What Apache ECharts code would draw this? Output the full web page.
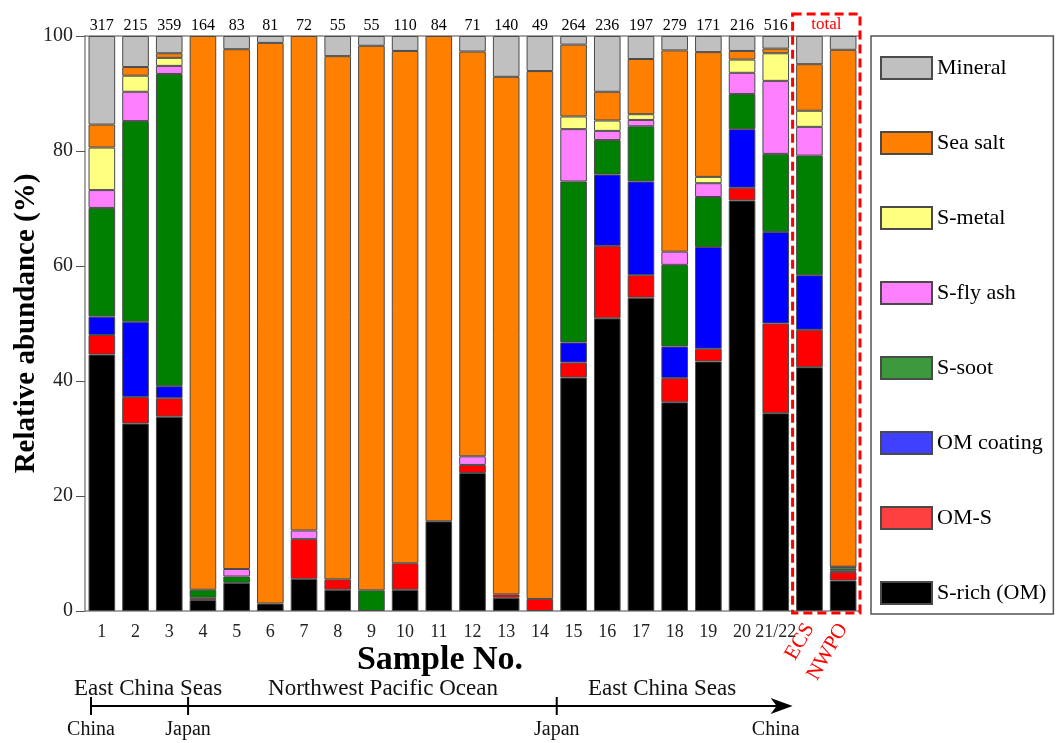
<!DOCTYPE html>
<html lang="en">
	<head>
		<meta charset="utf-8">
		<title>Relative abundance of S-containing particles</title>
		<style>
			html, body { margin: 0; padding: 0; background: #fff; }
			#chart { width: 1058px; height: 743px; }
		</style>
	</head>
	<body>
		<div id="chart"></div>
		<script src="https://cdn.jsdelivr.net/npm/echarts@6.0.0/dist/echarts.min.js"></script>
		<script>
			// categories + particle counts above bars
			var samples = ['1','2','3','4','5','6','7','8','9','10','11','12','13','14','15','16','17','18','19','20','21/22','ECS','NWPO'];
			var counts = ['317','215','359','164','83','81','72','55','55','110','84','71','140','49','264','236','197','279','171','216','516','',''];
			var yTicks = [0, 20, 40, 60, 80, 100];

			// percentages, bottom of the stack first
			var sRich     = [44.6,32.6,33.8,1.9,4.9,1.3,5.6,3.7,0,3.7,15.6,24.0,2.3,0,40.6,50.9,54.5,36.3,43.4,71.4,34.4,42.4,5.3];
			var omS       = [3.4,4.6,3.2,0.4,0,0,6.9,1.8,0,4.6,0,1.4,0.6,2.1,2.6,12.6,3.9,4.2,2.2,2.2,15.6,6.5,1.5];
			var omCoating = [3.2,13.1,2.1,0,0,0,0,0,0,0,0,0,0,0,3.5,12.4,16.3,5.5,17.7,10.2,15.9,9.5,0.2];
			var sSoot     = [18.9,34.9,54.3,1.4,1.1,0,0,0,3.6,0,0,0,0,0,28.0,6.0,9.6,14.2,8.7,6.1,13.6,20.8,0.4];
			var sFlyAsh   = [3.1,5.1,1.4,0,1.3,0,1.5,0,0,0,0,1.5,0,0,9.1,1.6,1.1,2.3,2.4,3.7,12.7,5.0,0.2];
			var sMetal    = [7.4,2.8,1.4,0,0,0,0,0,0,0,0,0,0,0,2.2,1.8,1.0,0,1.1,2.3,4.8,2.8,0.1];
			var seaSalt   = [4.0,1.5,0.8,96.3,90.4,97.5,86.0,91.0,94.7,89.1,84.4,70.4,90.0,91.8,12.5,5.0,9.6,35.0,21.7,1.5,0.8,8.1,89.9];
			var mineral   = [15.4,5.4,3.0,0,2.3,1.2,0,3.5,1.7,2.6,0,2.7,7.1,6.1,1.5,9.7,4.0,2.5,2.8,2.6,2.2,4.9,2.4];

			var seriesNames = ['S-rich (OM)','OM-S','OM coating','S-soot','S-fly ash','S-metal','Sea salt','Mineral'];
			var seriesData = [sRich, omS, omCoating, sSoot, sFlyAsh, sMetal, seaSalt, mineral];
			var barColors = ['#000000','#ff0000','#0000ff','#008000','#ff80ff','#ffff80','#ff8000','#c0c0c0'];
			var legendColors = ['#000000','#ff4040','#4040ff','#3c9a3c','#ff80ff','#ffff80','#ff8000','#c0c0c0'];

			var serif = 'Liberation Serif';
			var chart = echarts.init(document.getElementById('chart'));

			var series = [];
			for (var i = 0; i < seriesNames.length; i++) {
				series.push({
					name: seriesNames[i],
					type: 'bar',
					stack: 'total',
					xAxisIndex: 0,
					barWidth: '79%',
					data: seriesData[i].map(function (v) { return v === 0 ? '-' : v; }),
					itemStyle: { color: barColors[i], borderColor: '#4a4a4a', borderWidth: 1 },
					emphasis: { disabled: true }
				});
			}

			var legendData = [];
			for (var j = seriesNames.length - 1; j >= 0; j--) {
				legendData.push({ name: seriesNames[j], itemStyle: { color: legendColors[j] } });
			}

			var option = {
				animation: false,
				backgroundColor: '#fff',
				textStyle: { fontFamily: serif },
				grid: { left: 85, right: 198, top: 36, bottom: 132, outerBoundsMode: 'none', containLabel: false },
				legend: {
					orient: 'vertical',
					left: 871,
					top: 36,
					padding: [20, 7, 9, 9],
					icon: 'rect',
					itemWidth: 51,
					itemHeight: 22,
					itemGap: 51,
					borderColor: '#555',
					borderWidth: 1.5,
					textStyle: { fontFamily: serif, fontSize: 22, lineHeight: 22, color: '#000' },
					data: legendData
				},
				xAxis: [{
					type: 'category',
					position: 'bottom',
					data: samples,
					axisLine: { lineStyle: { color: '#888', width: 1.5 } },
					axisTick: { alignWithLabel: true, length: 9, lineStyle: { color: '#555' } },
					axisLabel: {
						interval: 0, margin: 12, fontSize: 18, color: '#222', fontFamily: serif,
						formatter: function (v) { return (v === 'ECS' || v === 'NWPO') ? '' : v; }
					}
				}, {
					type: 'category',
					position: 'bottom',
					data: samples,
					axisLine: { show: false },
					axisTick: { show: false },
					axisLabel: {
						interval: 0, margin: 14, rotate: 60, fontSize: 21, color: '#ff0000', fontFamily: serif,
						formatter: function (v) { return (v === 'ECS' || v === 'NWPO') ? v : ''; }
					}
				}, {
					type: 'category',
					position: 'top',
					data: counts,
					axisLine: { lineStyle: { color: '#888', width: 1.5 } },
					axisTick: { show: false },
					axisLabel: { interval: 0, margin: 2, fontSize: 16, color: '#000', fontFamily: serif }
				}],
				yAxis: {
					type: 'value',
					min: yTicks[0],
					max: yTicks[yTicks.length - 1],
					interval: 20,
					name: 'Relative abundance (%)',
					nameLocation: 'middle',
					nameGap: 44,
					nameMoveOverlap: false,
					nameTextStyle: { fontFamily: serif, fontSize: 29, fontWeight: 'bold', color: '#000' },
					axisLine: { show: true, lineStyle: { color: '#888', width: 1.5 } },
					axisTick: { show: true, length: 9, lineStyle: { color: '#555' } },
					axisLabel: { fontSize: 20, color: '#222', margin: 12, fontFamily: serif },
					splitLine: { show: false }
				},
				series: series
			};
			chart.setOption(option);

			// annotations positioned from the axes
			var px = function (c) { return chart.convertToPixel({ xAxisIndex: 0 }, c); };
			var ecsX = px('ECS');
			var nwpoX = px('NWPO');
			var band = nwpoX - ecsX;
			var yTop = chart.convertToPixel({ yAxisIndex: 0 }, 100);
			var yBot = chart.convertToPixel({ yAxisIndex: 0 }, 0);

			var china1 = px('1') - band / 2 + 6;
			var japan1 = (px('3') + px('4')) / 2 + 2;
			var japan2 = (px('14') + px('15')) / 2;
			var china2 = px('21/22');
			var arrowEnd = px('21/22') + band / 2;
			var arrowY = 706;

			var redText = { fill: '#ff0000', fontFamily: serif };
			var blackText = { fill: '#111', fontFamily: serif };

			chart.setOption({
				graphic: [
					{
						type: 'rect',
						shape: { x: ecsX - band / 2, y: yTop - 22, width: band * 2, height: yBot - yTop + 24 },
						style: { fill: 'none', stroke: '#ff0000', lineWidth: 3, lineDash: [9, 5] },
						z: 100
					},
					{
						type: 'text',
						x: (ecsX + nwpoX) / 2, y: yTop - 11,
						style: Object.assign({ text: 'total', fontSize: 17, align: 'center', verticalAlign: 'middle' }, redText)
					},
					{
						type: 'text',
						x: 440, y: 660,
						style: { text: 'Sample No.', fontSize: 34, fontWeight: 'bold', align: 'center', verticalAlign: 'middle', fill: '#000', fontFamily: serif }
					},
					{ type: 'text', x: 148, y: 689, style: Object.assign({ text: 'East China Seas', fontSize: 23, align: 'center', verticalAlign: 'middle' }, blackText) },
					{ type: 'text', x: 383, y: 689, style: Object.assign({ text: 'Northwest Pacific Ocean', fontSize: 23, align: 'center', verticalAlign: 'middle' }, blackText) },
					{ type: 'text', x: 662, y: 689, style: Object.assign({ text: 'East China Seas', fontSize: 23, align: 'center', verticalAlign: 'middle' }, blackText) },
					{ type: 'line', shape: { x1: china1, y1: arrowY, x2: arrowEnd - 14, y2: arrowY }, style: { stroke: '#000', lineWidth: 2 } },
					{ type: 'polygon', shape: { points: [[arrowEnd - 22, arrowY - 8], [arrowEnd, arrowY], [arrowEnd - 22, arrowY + 8], [arrowEnd - 16, arrowY]] }, style: { fill: '#000' } },
					{ type: 'line', shape: { x1: china1, y1: arrowY - 9, x2: china1, y2: arrowY + 9 }, style: { stroke: '#000', lineWidth: 2 } },
					{ type: 'line', shape: { x1: japan1, y1: arrowY - 9, x2: japan1, y2: arrowY + 9 }, style: { stroke: '#000', lineWidth: 2 } },
					{ type: 'line', shape: { x1: japan2, y1: arrowY - 9, x2: japan2, y2: arrowY + 9 }, style: { stroke: '#000', lineWidth: 2 } },
					{ type: 'text', x: china1, y: 730, style: Object.assign({ text: 'China', fontSize: 20, align: 'center', verticalAlign: 'middle' }, blackText) },
					{ type: 'text', x: japan1, y: 730, style: Object.assign({ text: 'Japan', fontSize: 20, align: 'center', verticalAlign: 'middle' }, blackText) },
					{ type: 'text', x: japan2, y: 730, style: Object.assign({ text: 'Japan', fontSize: 20, align: 'center', verticalAlign: 'middle' }, blackText) },
					{ type: 'text', x: china2, y: 730, style: Object.assign({ text: 'China', fontSize: 20, align: 'center', verticalAlign: 'middle' }, blackText) }
				]
			});
		</script>
	</body>
</html>
